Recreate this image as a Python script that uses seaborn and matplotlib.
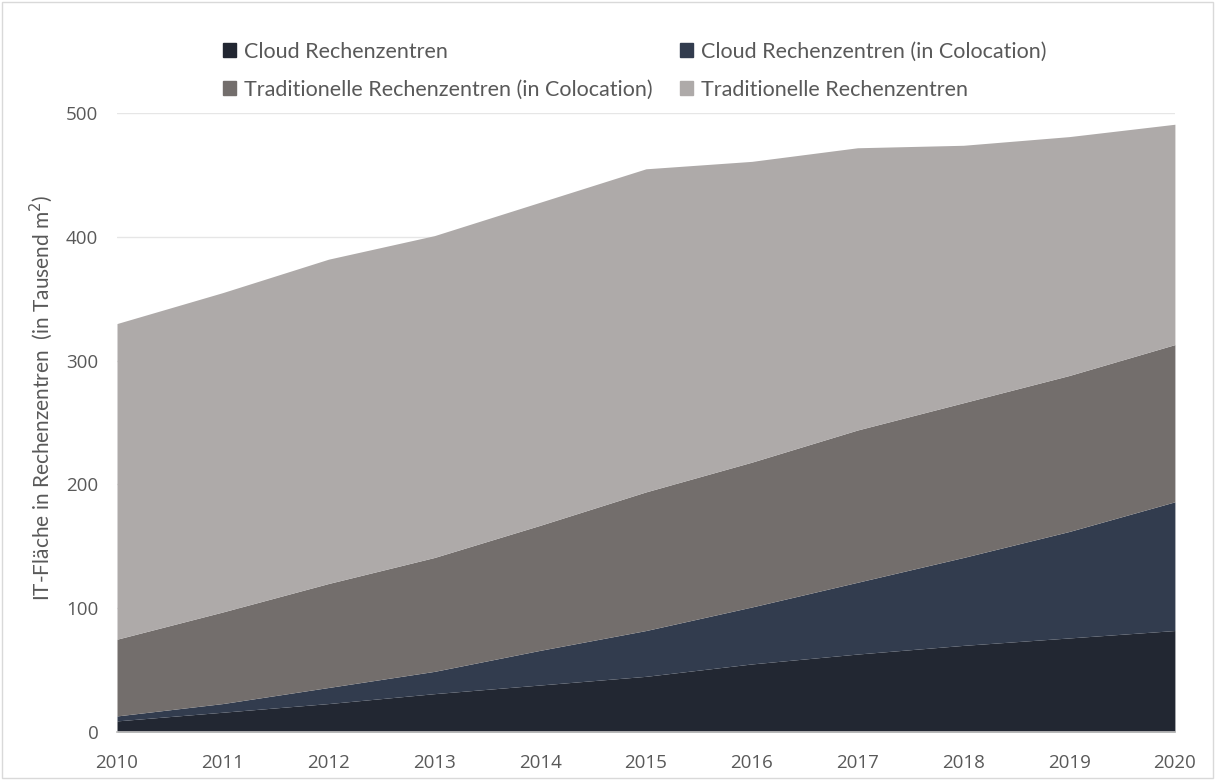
import matplotlib
matplotlib.use("Agg")
import matplotlib.pyplot as plt
import matplotlib.patches as mpatches
import seaborn as sns

# Data (in Tausend m²)
years = [2010, 2011, 2012, 2013, 2014, 2015, 2016, 2017, 2018, 2019, 2020]
cloud = [9, 16, 23, 31, 38, 45, 55, 63, 70, 76, 82]
cloud_colo = [4, 7, 13, 18, 28, 37, 46, 58, 71, 86, 104]
trad_colo = [62, 74, 84, 92, 101, 112, 117, 123, 125, 126, 127]
trad = [255, 258, 262, 260, 261, 261, 243, 228, 208, 193, 178]

labels = ["Cloud Rechenzentren", "Cloud Rechenzentren (in Colocation)",
          "Traditionelle Rechenzentren (in Colocation)", "Traditionelle Rechenzentren"]
colors = ["#222732", "#323c4e", "#736e6c", "#aeaaa9"]

sns.set_theme(style="white")
plt.rcParams['font.family'] = ['Lato', 'DejaVu Sans']

fig = plt.figure(figsize=(12.15, 7.8), dpi=100)
ax = fig.add_axes([0.0963, 0.0615, 0.8707, 0.7935])

ax.stackplot(years, cloud, cloud_colo, trad_colo, trad, colors=colors, labels=labels,
             linewidth=0, zorder=2)

ax.set_xlim(2010, 2020)
ax.set_ylim(0, 500)
ax.set_xticks(years)
ax.set_yticks(range(0, 501, 100))
ax.yaxis.grid(True, color="#e6e6e6", linewidth=1, zorder=0)
ax.set_axisbelow(True)
for s in ["top", "right", "left"]:
    ax.spines[s].set_visible(False)
ax.spines["bottom"].set_color("#bfbfbf")
ax.tick_params(axis="both", colors="#595959", labelsize=13.5)
ax.tick_params(axis="x", length=4, color="#d9d9d9", direction="out", pad=12)
ax.tick_params(axis="y", length=0, pad=13.5)
for t in ax.get_xticklabels() + ax.get_yticklabels():
    t.set_family(["Open Sans", "DejaVu Sans"])

ax.set_ylabel("IT-Fläche in Rechenzentren  (in Tausend m$^2$)", color="#595959",
              fontsize=15)
ax.yaxis.set_label_coords(-0.059, 0.54)

# legend: row 1 Cloud, Cloud colo; row 2 Trad colo, Trad (column-major fill)
handles = [mpatches.Patch(color=c) for c in colors]
order = [0, 2, 1, 3]
ax.legend([handles[i] for i in order], [labels[i] for i in order], ncol=2,
          loc="lower left", bbox_to_anchor=(0.082, 0.99), frameon=False,
          fontsize=15.5, labelcolor="#595959", handlelength=0.6, handleheight=0.6,
          handletextpad=0.35, columnspacing=1.3, labelspacing=0.85)

fig.patches.append(mpatches.Rectangle((0.002, 0.002), 0.996, 0.996, transform=fig.transFigure,
                                      fill=False, edgecolor="#d9d9d9", linewidth=1))

fig.savefig("out.png", dpi=100)
